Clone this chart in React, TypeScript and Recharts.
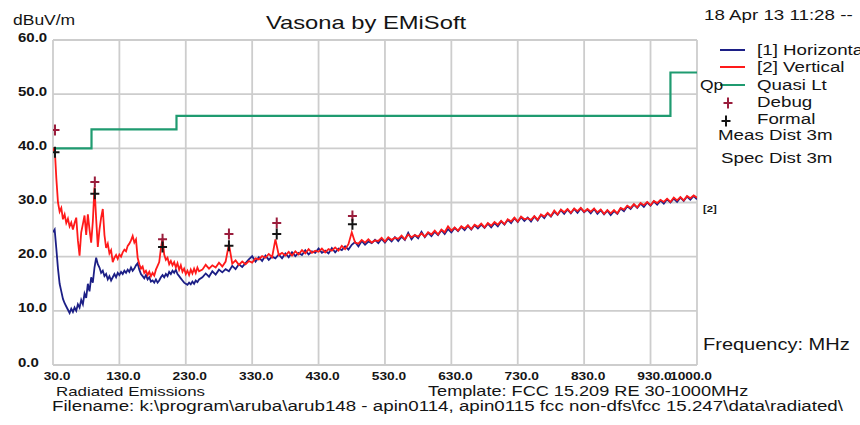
import React from 'react';
import { ComposedChart, Line, Scatter, XAxis, YAxis, CartesianGrid } from 'recharts';

// ---- sweep frequencies (MHz) ----
const LOW_FREQ = [
  30, 32.5, 35, 37.5, 40, 42.5, 45, 47.5, 50, 52.5,
  55, 57.5, 60, 62.5, 65, 67.5, 70, 72.5, 75, 77.5,
  80, 82.5, 85, 87.5, 90, 92.5, 95, 97.5, 100, 102.5,
  105, 107.5, 110, 112.5, 115, 117.5, 120, 122.5, 125, 127.5,
  130, 132.5, 135, 137.5, 140, 142.5, 145, 147.5, 150, 152.5,
  155, 157.5, 160, 162.5, 165, 167.5, 170, 172.5, 175, 177.5,
  180, 182.5, 185, 187.5, 190, 192.5, 195, 197.5, 200, 202.5,
  205, 207.5, 210, 212.5, 215, 217.5, 220, 222.5, 225, 227.5,
  230, 232.5, 235, 237.5, 240, 242.5, 245, 247.5, 250,
];
const HIGH_FREQ = [
  255, 260, 265, 270, 275, 280, 285, 290, 295, 300,
  305, 310, 315, 320, 325, 330, 335, 340, 345, 350,
  355, 360, 365, 370, 375, 380, 385, 390, 395, 400,
  405, 410, 415, 420, 425, 430, 435, 440, 445, 450,
  455, 460, 465, 470, 475, 480, 485, 490, 495, 500,
  505, 510, 515, 520, 525, 530, 535, 540, 545, 550,
  555, 560, 565, 570, 575, 580, 585, 590, 595, 600,
  605, 610, 615, 620, 625, 630, 635, 640, 645, 650,
  655, 660, 665, 670, 675, 680, 685, 690, 695, 700,
  705, 710, 715, 720, 725, 730, 735, 740, 745, 750,
  755, 760, 765, 770, 775, 780, 785, 790, 795, 800,
  805, 810, 815, 820, 825, 830, 835, 840, 845, 850,
  855, 860, 865, 870, 875, 880, 885, 890, 895, 900,
  905, 910, 915, 920, 925, 930, 935, 940, 945, 950,
  955, 960, 965, 970, 975, 980, 985, 990, 995, 1000,
];

// ---- [1] Horizontal trace (dBuV/m) ----
const LOW_HORIZ = [
  24.5, 25.0, 21.5, 17.8, 15.0, 13.6, 12.2, 11.4, 10.8, 10.2,
  9.6, 10.4, 9.8, 10.6, 10.0, 11.2, 10.6, 12.0, 11.2, 13.2,
  12.4, 15.0, 13.6, 16.2, 15.2, 18.0, 19.8, 18.6, 18.0, 17.0,
  17.4, 16.4, 16.8, 15.8, 16.4, 15.6, 16.2, 16.8, 16.2, 17.0,
  16.6, 17.2, 16.8, 17.4, 17.0, 17.6, 17.2, 18.0, 17.4, 17.8,
  18.4, 18.8, 17.6, 16.8, 16.4, 16.0, 16.6, 15.8, 16.2, 15.4,
  15.6, 15.2, 15.8, 15.2, 15.6, 16.2, 16.6, 16.2, 16.8, 16.4,
  17.2, 16.8, 17.4, 17.0, 17.6, 16.8, 16.4, 16.0, 15.6, 15.2,
  15.0, 14.8, 15.2, 14.9, 15.4, 15.0, 15.6, 15.3, 15.8,
];
const HIGH_HORIZ = [
  16.2, 16.9, 16.3, 17.3, 16.7, 17.6, 17.1, 17.7, 17.3, 18.3,
  17.7, 18.6, 18.1, 18.8, 19.5, 20.1, 19.1, 19.9, 19.2, 20.2,
  19.4, 20.0, 19.7, 20.4, 19.7, 20.6, 19.9, 20.8, 20.1, 20.7,
  20.3, 21.2, 20.4, 21.0, 20.7, 21.5, 20.7, 21.1, 20.6, 21.6,
  20.8, 21.5, 21.2, 21.9, 21.3, 22.2, 22.7, 21.9, 22.9, 22.2,
  22.8, 22.5, 23.1, 22.5, 23.3, 22.6, 23.4, 22.8, 23.6, 22.9,
  23.7, 23.1, 24.4, 23.2, 24.0, 23.4, 24.6, 23.6, 24.4, 23.8,
  24.6, 24.0, 24.9, 24.2, 25.1, 24.5, 25.3, 24.7, 25.5, 24.9,
  25.7, 25.0, 25.8, 25.2, 25.9, 25.3, 26.1, 25.4, 26.2, 25.6,
  26.5, 25.9, 26.8, 26.2, 27.1, 26.4, 27.3, 26.6, 27.2, 26.5,
  27.4, 26.7, 27.7, 27.1, 28.0, 27.4, 28.3, 27.7, 28.6, 27.9,
  28.7, 28.0, 28.8, 28.1, 28.9, 28.2, 28.7, 28.0, 28.8, 27.9,
  28.6, 27.8, 28.5, 27.7, 28.4, 27.9, 28.9, 28.4, 29.3, 28.8,
  29.6, 29.0, 29.8, 29.2, 30.0, 29.4, 30.2, 29.6, 30.4, 29.8,
  30.6, 30.0, 30.7, 30.1, 30.9, 30.3, 31.1, 30.5, 31.2, 30.6,
];

// ---- [2] Vertical trace (dBuV/m) ----
const LOW_VERT = [
  39.5, 40.2, 34.5, 30.0, 28.3, 29.0, 26.9, 27.8, 26.2, 27.0,
  25.6, 26.3, 25.0, 26.2, 27.2, 23.0, 20.2, 24.5, 26.0, 27.6,
  24.0, 27.8, 25.0, 22.6, 26.5, 32.8, 27.0, 21.8, 25.0, 27.2,
  28.8, 24.0, 21.6, 22.4, 20.6, 21.2, 19.0, 19.8, 20.3, 19.6,
  20.4, 20.0, 20.8, 21.3, 21.0, 22.0, 22.4, 23.0, 23.8, 22.6,
  23.2, 19.8, 18.6, 17.8, 18.2, 17.0, 17.4, 16.6, 17.2, 16.4,
  17.0, 16.5, 17.6, 18.3, 19.0, 21.5, 23.4, 20.4, 19.4, 19.8,
  18.6, 19.2, 18.4, 19.0, 18.0, 18.8, 17.6, 18.4, 17.2, 17.8,
  16.8, 17.4, 16.6, 17.6, 16.9, 17.8, 17.0, 18.0, 17.3,
];
const HIGH_VERT = [
  17.6, 18.5, 17.8, 18.4, 18.0, 18.9, 18.2, 19.1, 22.3, 18.7,
  19.3, 18.5, 19.1, 18.6, 19.2, 18.9, 19.7, 19.5, 20.1, 19.8,
  20.5, 19.9, 23.2, 20.3, 20.7, 20.2, 20.9, 20.2, 21.0, 20.4,
  21.2, 20.6, 21.4, 20.7, 21.1, 20.9, 21.5, 20.8, 21.4, 21.1,
  21.7, 21.1, 22.0, 21.4, 22.3, 24.5, 22.6, 22.4, 23.1, 22.6,
  23.2, 22.6, 23.0, 22.9, 23.5, 22.8, 23.6, 23.1, 23.5, 23.3,
  23.9, 23.2, 24.1, 23.6, 24.0, 23.7, 24.3, 23.7, 24.5, 24.1,
  24.8, 24.1, 25.0, 24.5, 25.6, 24.8, 25.4, 24.8, 25.6, 25.2,
  25.8, 25.1, 25.9, 25.5, 26.1, 25.4, 26.2, 25.7, 26.4, 25.9,
  26.6, 26.0, 26.9, 26.5, 27.2, 26.5, 27.4, 26.9, 27.1, 26.8,
  27.5, 26.8, 27.8, 27.4, 28.1, 27.5, 28.5, 27.8, 28.7, 28.2,
  28.8, 28.1, 28.9, 28.4, 29.0, 28.3, 28.8, 28.3, 28.9, 28.2,
  28.7, 27.9, 28.6, 28.0, 28.6, 28.0, 29.0, 28.7, 29.4, 29.0,
  29.7, 29.1, 29.9, 29.5, 30.1, 29.5, 30.3, 29.9, 30.5, 30.1,
  30.7, 30.1, 30.9, 30.4, 31.0, 30.4, 31.2, 30.8, 31.3, 30.9,
];

// ---- Quasi-peak limit (FCC 15.209, 3 m) ----
const LIMIT_FREQ = [30, 88, 216, 960, 1000];
const LIMIT_DB = [40, 43.5, 46, 54, 54];

// ---- marker readings ----
const MARK_FREQ = [33, 93, 195, 295, 367, 481];
const DEBUG_DB = [43.4, 33.8, 23.2, 24.2, 26.2, 27.5];
const FORMAL_DB = [39.3, 31.6, 21.8, 22.0, 24.2, 26.0];

// ---- axes ----
const X_TICKS = [30, 130, 230, 330, 430, 530, 630, 730, 830, 930, 1000];
const Y_TICKS = [0, 10, 20, 30, 40, 50, 60];

const FREQ = [...LOW_FREQ, ...HIGH_FREQ];
const HORIZ = [...LOW_HORIZ, ...HIGH_HORIZ];
const VERT = [...LOW_VERT, ...HIGH_VERT];

const horizData = FREQ.map((f, i) => ({ f, v: HORIZ[i] }));
const vertData = FREQ.map((f, i) => ({ f, v: VERT[i] }));
const limitData = LIMIT_FREQ.map((f, i) => ({ f, v: LIMIT_DB[i] }));
const debugData = MARK_FREQ.map((f, i) => ({ f, v: DEBUG_DB[i] }));
const formalData = MARK_FREQ.map((f, i) => ({ f, v: FORMAL_DB[i] }));

const FONT = '"Liberation Sans", Arial, sans-serif';
const STRETCH = 1.25;

const BLUE = '#1c1f86';
const RED = '#ff1a1a';
const GREEN = '#1f9b70';
const DEBUG_COL = '#9a1d3c';
const INK = '#141414';

function Txt({ x, y, size, anchor = 'start', weight = 'normal', children }: any) {
  return (
    <text
      transform={`translate(${x},${y}) scale(${STRETCH},1)`}
      fontSize={size}
      fontFamily={FONT}
      fontWeight={weight}
      textAnchor={anchor}
      fill={INK}
    >
      {children}
    </text>
  );
}

const XTick = (props: any) => {
  const { x, payload, index } = props;
  const last = index === X_TICKS.length - 1;
  return (
    <Txt x={last ? x - 6 : x + 4} y={380} size={11} weight="bold" anchor="middle">
      {Number(payload.value).toFixed(1)}
    </Txt>
  );
};

const YTick = (props: any) => {
  const { y, payload } = props;
  return (
    <Txt x={18} y={y + 1.5} size={12} weight="bold">
      {Number(payload.value).toFixed(1)}
    </Txt>
  );
};

const plus = (color: string) => (props: any) => {
  const { cx, cy } = props;
  return (
    <path
      d={`M${cx - 4.5},${cy}H${cx + 4.5}M${cx},${cy - 5.5}V${cy + 5.5}`}
      stroke={color}
      strokeWidth={2}
      fill="none"
    />
  );
};

function Annotations() {
  return (
    <svg
      width={860}
      height={425}
      style={{ position: 'absolute', left: 0, top: 0, pointerEvents: 'none' }}
    >
      <Txt x={13} y={25} size={14}>dBuV/m</Txt>
      <Txt x={366} y={29} size={19} anchor="middle">Vasona by EMiSoft</Txt>
      <Txt x={704} y={20} size={15}>18 Apr 13 11:28 --</Txt>

      <line x1={720} y1={50} x2={745} y2={50} stroke={BLUE} strokeWidth={2} />
      <line x1={720} y1={67} x2={745} y2={67} stroke={RED} strokeWidth={2} />
      <line x1={720} y1={85} x2={745} y2={85} stroke={GREEN} strokeWidth={2} />
      <path d="M723.5,103H732.5M728,97.5V108.5" stroke={DEBUG_COL} strokeWidth={2} />
      <path d="M721.5,121H730.5M726,115.5V126.5" stroke={INK} strokeWidth={2} />
      <Txt x={757} y={55} size={15}>[1] Horizontal</Txt>
      <Txt x={757} y={72} size={15}>[2] Vertical</Txt>
      <Txt x={700} y={90} size={14}>Qp</Txt>
      <Txt x={757} y={90} size={15}>Quasi Lt</Txt>
      <Txt x={757} y={107} size={15}>Debug</Txt>
      <Txt x={757} y={124} size={15}>Formal</Txt>
      <Txt x={718} y={140} size={15}>Meas Dist 3m</Txt>
      <Txt x={721} y={163} size={15}>Spec Dist 3m</Txt>

      <Txt x={703} y={212} size={9} weight="bold">[2]</Txt>

      <Txt x={703} y={350} size={16}>Frequency: MHz</Txt>

      <Txt x={56} y={396} size={13.5}>Radiated Emissions</Txt>
      <Txt x={428} y={396} size={14.5}>Template: FCC 15.209 RE 30-1000MHz</Txt>
      <Txt x={52} y={411} size={15}>
        {'Filename: k:\\program\\aruba\\arub148 - apin0114, apin0115 fcc non-dfs\\fcc 15.247\\data\\radiated\\'}
      </Txt>
    </svg>
  );
}

export default function App() {
  return (
    <div style={{ position: 'absolute', left: 0, top: 0, width: 860, height: 425, background: '#fff', overflow: 'hidden' }}>
      <ComposedChart
        width={860}
        height={425}
        margin={{ top: 40, right: 163, bottom: 0, left: 0 }}
      >
        <CartesianGrid stroke="#cdcdcd" strokeWidth={1.8} />
        <XAxis
          type="number"
          dataKey="f"
          domain={[30, 1000]}
          ticks={X_TICKS}
          interval={0}
          height={60}
          axisLine={false}
          tickLine={false}
          tick={XTick}
          allowDataOverflow
        />
        <YAxis
          type="number"
          dataKey="v"
          domain={[0, 60]}
          ticks={Y_TICKS}
          interval={0}
          width={53}
          axisLine={false}
          tickLine={false}
          tick={YTick}
          allowDataOverflow
        />
        <Line data={limitData} dataKey="v" type="stepAfter" stroke={GREEN} strokeWidth={2.2} dot={false} isAnimationActive={false} />
        <Line data={horizData} dataKey="v" type="linear" stroke={BLUE} strokeWidth={1.8} dot={false} isAnimationActive={false} />
        <Line data={vertData} dataKey="v" type="linear" stroke={RED} strokeWidth={1.8} dot={false} isAnimationActive={false} />
        <Scatter data={debugData} dataKey="v" shape={plus(DEBUG_COL)} isAnimationActive={false} />
        <Scatter data={formalData} dataKey="v" shape={plus(INK)} isAnimationActive={false} />
      </ComposedChart>
      <Annotations />
    </div>
  );
}
